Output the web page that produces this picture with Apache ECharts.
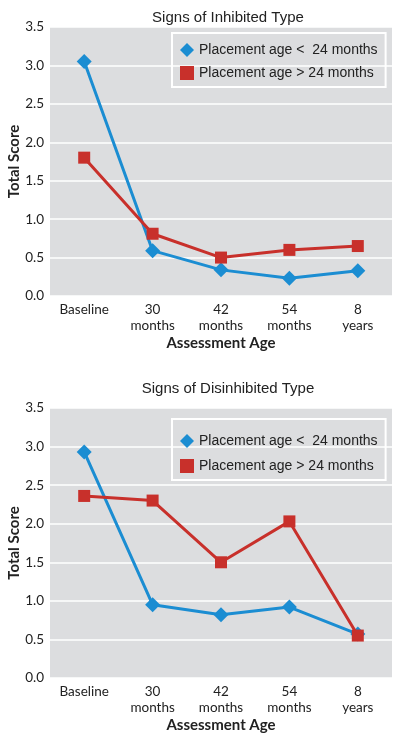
<!DOCTYPE html>
<html><head><meta charset="utf-8">
<script src="https://cdn.jsdelivr.net/npm/echarts@6/dist/echarts.min.js"></script>
<style>html,body{margin:0;padding:0;background:#fff}#c{width:400px;height:740px}</style>
</head><body><div id="c"></div>
<script>
const categories = ['Baseline', '30\nmonths', '42\nmonths', '54\nmonths', '8\nyears'];
const yTicks = [0, 0.5, 1.0, 1.5, 2.0, 2.5, 3.0, 3.5];
const seriesNames = ['Placement age <  24 months', 'Placement age > 24 months'];
const titles = ['Signs of Inhibited Type', 'Signs of Disinhibited Type'];
const inhibitedYoung = [3.05, 0.59, 0.34, 0.23, 0.33];
const inhibitedOld = [1.80, 0.81, 0.50, 0.60, 0.65];
const disinhibitedYoung = [2.93, 0.95, 0.82, 0.92, 0.57];
const disinhibitedOld = [2.36, 2.30, 1.50, 2.03, 0.55];

const BLUE = '#1b8dd2', RED = '#c8302b', BG = '#dcdddf';
const axisFont = 'Lato, "Open Sans", sans-serif';
const chart = echarts.init(document.getElementById('c'));

const grids = [
  {left: 50, right: 8, top: 27, height: 269, show: true, backgroundColor: BG, borderWidth: 0, containLabel:false, outerBoundsMode:'none'},
  {left: 50, right: 8, top: 408, height: 270, show: true, backgroundColor: BG, borderWidth: 0, containLabel:false, outerBoundsMode:'none'}
];
function xAx(i){return {type:'category', gridIndex:i, data:categories, boundaryGap:true,
  axisLine:{show:false}, axisTick:{show:false},
  axisLabel:{color:'#222', fontFamily:axisFont, fontSize:13.5, lineHeight:16, margin:6},
  name:'Assessment Age', nameLocation:'middle', nameGap:40, nameMoveOverlap:false,
  nameTextStyle:{color:'#222', fontFamily:axisFont, fontSize:15, fontWeight:'bold'}};}
function yAx(i){return {type:'value', gridIndex:i, min:0, max:3.5, interval:0.5,
  axisLine:{show:false}, axisTick:{show:false},
  splitLine:{lineStyle:{color:'#ffffff', width:1.5}},
  axisLabel:{color:'#222', fontFamily:axisFont, fontSize:13.5, margin:6,
    formatter:v=>yTicks.includes(v)?v.toFixed(1):''},
  name:'Total Score', nameLocation:'middle', nameGap:28, nameRotate:90, nameMoveOverlap:false,
  nameTextStyle:{color:'#222', fontFamily:axisFont, fontSize:15, fontWeight:'bold'}};}
function ser(name, data, i, color, sym, size){return {name, type:'line', xAxisIndex:i, yAxisIndex:i,
  data, symbol:sym, symbolSize:size, showSymbol:true, color,
  lineStyle:{color, width:3}, itemStyle:{color}, z: color===RED?3:2};}
function legend(top, padding, gap){return {orient:'vertical', left:172, top, width:214,
  borderColor:'#ffffff', borderWidth:2, padding, itemGap:gap,
  itemWidth:14, itemHeight:14,
  textStyle:{color:'#222', fontFamily:'"Liberation Sans", Arial, sans-serif', fontSize:14},
  data:[{name:seriesNames[0], icon:'diamond'},{name:seriesNames[1], icon:'rect'}]};}

chart.setOption({
  animation:false,
  title: titles.map((t,i)=>({text:t, left:223, textAlign:'center', top: i===0?5:376,
    textStyle:{color:'#222', fontFamily:'"Liberation Sans", Arial, sans-serif', fontSize:15, fontWeight:'normal'}})),
  legend:[legend(33, [10,8,7,8], 9), legend(419, [15,8,7,8], 11)],
  grid: grids,
  xAxis:[xAx(0), xAx(1)],
  yAxis:[yAx(0), yAx(1)],
  series:[
    ser(seriesNames[0], inhibitedYoung, 0, BLUE, 'diamond', 15),
    ser(seriesNames[1], inhibitedOld, 0, RED, 'rect', 12),
    ser(seriesNames[0], disinhibitedYoung, 1, BLUE, 'diamond', 15),
    ser(seriesNames[1], disinhibitedOld, 1, RED, 'rect', 12)
  ]
});
</script></body></html>
